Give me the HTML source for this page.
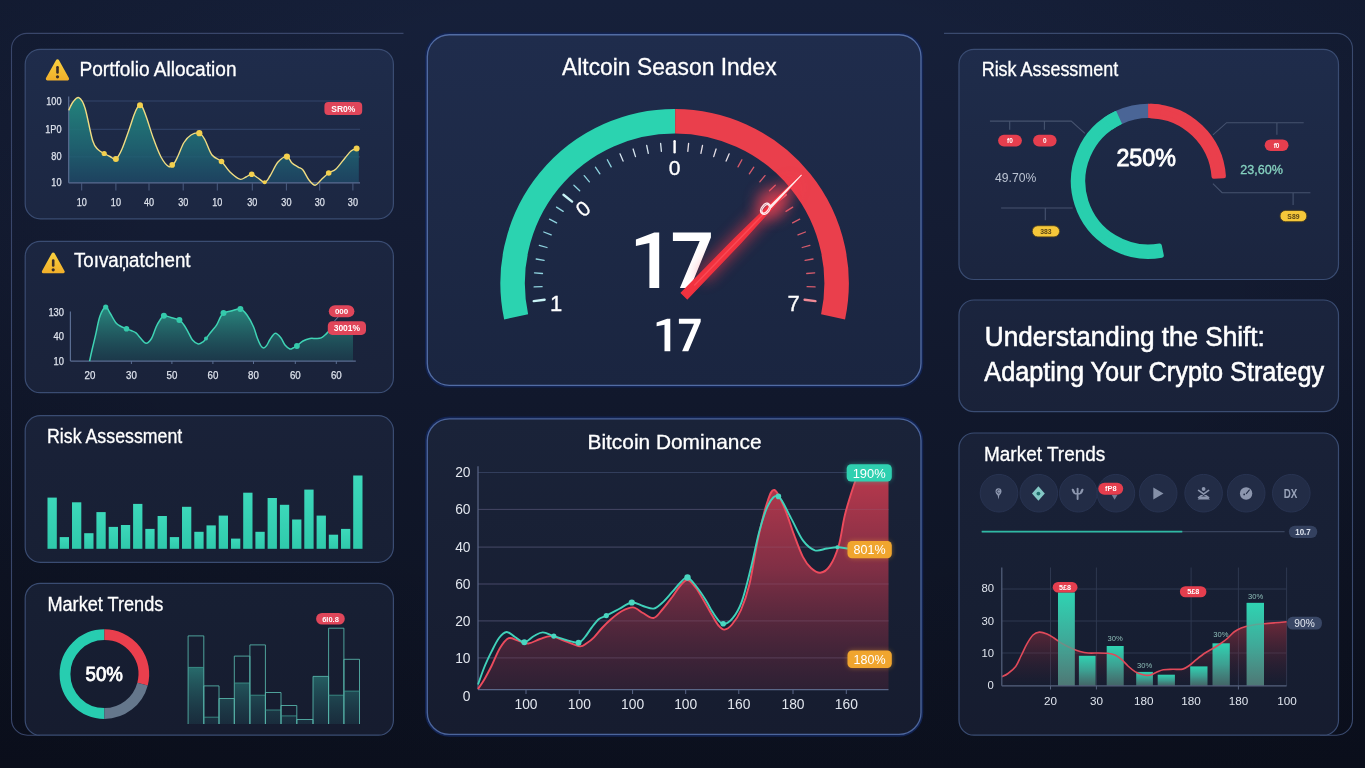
<!DOCTYPE html>
<html><head><meta charset="utf-8"><title>Crypto Dashboard</title>
<style>
html,body{margin:0;padding:0;background:#0e1424;overflow:hidden}
svg{display:block;font-family:"Liberation Sans",sans-serif;filter:blur(0.35px)}
</style></head><body>
<svg width="1365" height="768" viewBox="0 0 1365 768">
<defs>
<linearGradient id="bg" x1="0" y1="0" x2="0" y2="1"><stop offset="0" stop-color="#16203a"/><stop offset="0.3" stop-color="#141c33"/><stop offset="0.52" stop-color="#11182c"/><stop offset="0.75" stop-color="#0f1526"/><stop offset="1" stop-color="#0d1221"/></linearGradient>
<radialGradient id="vig" cx="0.5" cy="0.38" r="0.78"><stop offset="0.5" stop-color="#05070f" stop-opacity="0"/><stop offset="1" stop-color="#05070f" stop-opacity="0.34"/></radialGradient>
<linearGradient id="pf" gradientUnits="userSpaceOnUse" x1="0" y1="35" x2="0" y2="735"><stop offset="0" stop-color="#1f2c4c"/><stop offset="0.065" stop-color="#1e2b49"/><stop offset="0.336" stop-color="#1b253f"/><stop offset="0.6" stop-color="#192137"/><stop offset="0.82" stop-color="#171f33"/><stop offset="1" stop-color="#161c2f"/></linearGradient>
<linearGradient id="pfc" gradientUnits="userSpaceOnUse" x1="0" y1="35" x2="0" y2="385"><stop offset="0" stop-color="#1f2c4c"/><stop offset="0.5" stop-color="#1d2946"/><stop offset="1" stop-color="#1a2540"/></linearGradient>
<linearGradient id="pfc2" gradientUnits="userSpaceOnUse" x1="0" y1="419" x2="0" y2="735"><stop offset="0" stop-color="#1a2339"/><stop offset="1" stop-color="#161c2f"/></linearGradient>

<linearGradient id="a1" gradientUnits="userSpaceOnUse" x1="0" y1="97" x2="0" y2="183"><stop offset="0" stop-color="#23897f" stop-opacity="0.95"/><stop offset="0.6" stop-color="#1f6774" stop-opacity="0.85"/><stop offset="1" stop-color="#1e4a68" stop-opacity="0.75"/></linearGradient>
<linearGradient id="a2" gradientUnits="userSpaceOnUse" x1="0" y1="307" x2="0" y2="361"><stop offset="0" stop-color="#2a8f83" stop-opacity="0.95"/><stop offset="1" stop-color="#1d4a56" stop-opacity="0.55"/></linearGradient>
<linearGradient id="bar3" x1="0" y1="0" x2="0" y2="1"><stop offset="0" stop-color="#3cd8ba"/><stop offset="1" stop-color="#2fc9ab"/></linearGradient>
<linearGradient id="sb" gradientUnits="userSpaceOnUse" x1="0" y1="660" x2="0" y2="724"><stop offset="0" stop-color="#2f8d85" stop-opacity="0.8"/><stop offset="1" stop-color="#1f4a55" stop-opacity="0.35"/></linearGradient>
<linearGradient id="ra" gradientUnits="userSpaceOnUse" x1="0" y1="470" x2="0" y2="690"><stop offset="0" stop-color="#c43a4e" stop-opacity="0.95"/><stop offset="0.45" stop-color="#9a3349" stop-opacity="0.8"/><stop offset="1" stop-color="#4a2438" stop-opacity="0.45"/></linearGradient>
<linearGradient id="rb" x1="0" y1="0" x2="0" y2="1"><stop offset="0" stop-color="#2fd3b2"/><stop offset="0.5" stop-color="#3fae9c" stop-opacity="0.9"/><stop offset="1" stop-color="#56857f" stop-opacity="0.7"/></linearGradient>
<linearGradient id="ra2" gradientUnits="userSpaceOnUse" x1="0" y1="620" x2="0" y2="686"><stop offset="0" stop-color="#a8323f" stop-opacity="0.6"/><stop offset="1" stop-color="#5a2030" stop-opacity="0"/></linearGradient>
<linearGradient id="warn" x1="0" y1="0" x2="0" y2="1"><stop offset="0" stop-color="#f9cf3e"/><stop offset="1" stop-color="#f2b12b"/></linearGradient>
<filter id="glow" x="-50%" y="-50%" width="200%" height="200%"><feGaussianBlur stdDeviation="7"/></filter>
<filter id="glow2" x="-50%" y="-50%" width="200%" height="200%"><feGaussianBlur stdDeviation="2.5"/></filter>
<filter id="soft" x="-20%" y="-20%" width="140%" height="140%"><feGaussianBlur stdDeviation="0.45"/></filter>
</defs>
<rect width="1365" height="768" fill="url(#bg)"/>
<rect width="1365" height="768" fill="url(#vig)"/>

<path d="M403.5 33.4 H27 A15.5 15.5 0 0 0 11.5 49 V719 A16 16 0 0 0 27.5 735.2 H40" fill="none" stroke="#39466a" stroke-width="1.1"/>
<path d="M944 33.4 H1337 A15.5 15.5 0 0 1 1352.5 49 V719 A16 16 0 0 1 1336.5 735.2 H1320" fill="none" stroke="#3a4a6e" stroke-width="1.1"/>
<rect x="25.2" y="49.3" width="368.2" height="169.5" rx="15" fill="url(#pf)" stroke="#3a4c72" stroke-width="1.2"/>
<rect x="25.2" y="241.4" width="368.2" height="151.3" rx="15" fill="url(#pf)" stroke="#3a4c72" stroke-width="1.2"/>
<rect x="25.2" y="415.7" width="368.2" height="146.6" rx="15" fill="url(#pf)" stroke="#3a4c72" stroke-width="1.2"/>
<rect x="25.2" y="583.4" width="368.2" height="151.8" rx="15" fill="url(#pf)" stroke="#3a4c72" stroke-width="1.2"/>
<rect x="427.3" y="34.7" width="493.7" height="350.6" rx="22" fill="none" stroke="#122352" stroke-width="4.5"/>
<rect x="427.3" y="34.7" width="493.7" height="350.6" rx="22" fill="url(#pfc)" stroke="#526ca3" stroke-width="1.35"/>
<rect x="427.3" y="418.8" width="493.7" height="315.6" rx="22" fill="none" stroke="#122352" stroke-width="4.5"/>
<rect x="427.3" y="418.8" width="493.7" height="315.6" rx="22" fill="url(#pfc2)" stroke="#4c659b" stroke-width="1.35"/>
<rect x="959.0" y="49.3" width="379.5" height="230.2" rx="15" fill="url(#pf)" stroke="#3a4c72" stroke-width="1.2"/>
<rect x="959.0" y="300.0" width="379.5" height="111.6" rx="15" fill="url(#pf)" stroke="#3a4c72" stroke-width="1.2"/>
<rect x="959.0" y="433.0" width="379.5" height="302.2" rx="15" fill="url(#pf)" stroke="#3a4c72" stroke-width="1.2"/>
<path d="M57.5 60.9 L67.5 78.8 L47.4 78.8 Z" fill="url(#warn)" stroke="url(#warn)" stroke-width="3.2" stroke-linejoin="round"/>
<rect x="56.2" y="66.1" width="2.6" height="7.6" rx="1.2" fill="#3a2d2a"/>
<circle cx="57.5" cy="76.8" r="1.6" fill="#3a2d2a"/>
<text x="79.5" y="76.2" font-size="19.5" fill="#fff" text-anchor="start" font-weight="normal" textLength="157.0" lengthAdjust="spacingAndGlyphs" stroke="#fff" stroke-width="0.3">Portfolio Allocation</text>
<line x1="68.7" x2="360" y1="101.0" y2="101.0" stroke="#33456b" stroke-width="1"/>
<line x1="68.7" x2="360" y1="129.3" y2="129.3" stroke="#33456b" stroke-width="1"/>
<line x1="68.7" x2="360" y1="156.9" y2="156.9" stroke="#33456b" stroke-width="1"/>
<path d="M68.7 110.4 C69.4 109.0 71.3 104.1 73.0 102.0 C74.7 99.9 76.8 96.7 78.8 97.7 C80.8 98.7 82.7 100.8 85.0 108.0 C87.3 115.2 90.5 133.9 92.7 140.8 C94.9 147.7 96.1 147.4 98.0 149.5 C99.9 151.6 102.2 152.3 104.2 153.5 C106.2 154.7 108.0 155.6 110.0 156.5 C112.0 157.4 113.9 160.2 115.9 158.9 C117.9 157.7 119.7 154.3 122.0 149.0 C124.3 143.7 127.9 133.0 129.9 127.3 C131.9 121.6 132.7 118.3 134.0 115.0 C135.3 111.7 136.6 108.8 137.6 107.2 C138.6 105.6 139.2 105.3 140.0 105.3 C140.8 105.3 141.3 105.2 142.4 107.2 C143.5 109.2 144.6 112.2 146.5 117.5 C148.4 122.8 151.2 132.5 153.6 139.1 C156.0 145.7 158.5 152.4 161.0 157.0 C163.5 161.6 166.6 165.5 168.8 166.6 C171.0 167.7 172.5 165.3 174.0 163.5 C175.5 161.7 176.3 159.5 178.0 156.0 C179.7 152.5 181.8 146.0 184.0 142.5 C186.2 139.0 188.4 136.6 191.0 135.0 C193.6 133.4 197.0 132.4 199.3 133.2 C201.6 134.0 202.9 136.4 205.0 140.0 C207.1 143.6 209.2 151.4 212.0 155.0 C214.8 158.6 218.5 158.7 221.5 161.5 C224.5 164.3 226.9 169.1 230.0 172.0 C233.1 174.9 237.1 178.4 239.8 179.2 C242.5 180.0 244.0 177.8 246.0 177.0 C248.0 176.2 249.7 174.1 251.7 174.3 C253.7 174.5 255.8 176.7 258.0 178.0 C260.2 179.3 262.7 182.6 264.7 182.3 C266.7 182.0 267.8 179.4 270.0 176.0 C272.2 172.6 275.2 165.2 278.0 162.0 C280.8 158.8 284.6 156.4 286.9 156.6 C289.2 156.8 290.1 161.2 292.0 163.0 C293.9 164.8 296.4 165.9 298.2 167.1 C300.0 168.3 301.2 167.8 303.0 170.0 C304.8 172.2 307.0 177.5 309.0 180.0 C311.0 182.5 313.1 185.2 315.1 185.2 C317.1 185.2 318.7 182.0 321.0 180.0 C323.3 178.0 326.2 174.8 328.7 173.0 C331.2 171.2 333.3 171.5 336.0 169.0 C338.7 166.5 342.5 161.0 345.0 158.0 C347.5 155.0 349.1 152.6 351.0 151.0 C352.9 149.4 355.7 148.9 356.6 148.5 L358.8 148.5 L358.8 182.8 L68.7 182.8 Z" fill="url(#a1)"/>
<line x1="68.7" x2="360" y1="182.8" y2="182.8" stroke="#5a6d92" stroke-width="1.2"/>
<line x1="68.7" x2="68.7" y1="96.5" y2="182.8" stroke="#5a6d92" stroke-width="1.2"/>
<path d="M68.7 110.4 C69.4 109.0 71.3 104.1 73.0 102.0 C74.7 99.9 76.8 96.7 78.8 97.7 C80.8 98.7 82.7 100.8 85.0 108.0 C87.3 115.2 90.5 133.9 92.7 140.8 C94.9 147.7 96.1 147.4 98.0 149.5 C99.9 151.6 102.2 152.3 104.2 153.5 C106.2 154.7 108.0 155.6 110.0 156.5 C112.0 157.4 113.9 160.2 115.9 158.9 C117.9 157.7 119.7 154.3 122.0 149.0 C124.3 143.7 127.9 133.0 129.9 127.3 C131.9 121.6 132.7 118.3 134.0 115.0 C135.3 111.7 136.6 108.8 137.6 107.2 C138.6 105.6 139.2 105.3 140.0 105.3 C140.8 105.3 141.3 105.2 142.4 107.2 C143.5 109.2 144.6 112.2 146.5 117.5 C148.4 122.8 151.2 132.5 153.6 139.1 C156.0 145.7 158.5 152.4 161.0 157.0 C163.5 161.6 166.6 165.5 168.8 166.6 C171.0 167.7 172.5 165.3 174.0 163.5 C175.5 161.7 176.3 159.5 178.0 156.0 C179.7 152.5 181.8 146.0 184.0 142.5 C186.2 139.0 188.4 136.6 191.0 135.0 C193.6 133.4 197.0 132.4 199.3 133.2 C201.6 134.0 202.9 136.4 205.0 140.0 C207.1 143.6 209.2 151.4 212.0 155.0 C214.8 158.6 218.5 158.7 221.5 161.5 C224.5 164.3 226.9 169.1 230.0 172.0 C233.1 174.9 237.1 178.4 239.8 179.2 C242.5 180.0 244.0 177.8 246.0 177.0 C248.0 176.2 249.7 174.1 251.7 174.3 C253.7 174.5 255.8 176.7 258.0 178.0 C260.2 179.3 262.7 182.6 264.7 182.3 C266.7 182.0 267.8 179.4 270.0 176.0 C272.2 172.6 275.2 165.2 278.0 162.0 C280.8 158.8 284.6 156.4 286.9 156.6 C289.2 156.8 290.1 161.2 292.0 163.0 C293.9 164.8 296.4 165.9 298.2 167.1 C300.0 168.3 301.2 167.8 303.0 170.0 C304.8 172.2 307.0 177.5 309.0 180.0 C311.0 182.5 313.1 185.2 315.1 185.2 C317.1 185.2 318.7 182.0 321.0 180.0 C323.3 178.0 326.2 174.8 328.7 173.0 C331.2 171.2 333.3 171.5 336.0 169.0 C338.7 166.5 342.5 161.0 345.0 158.0 C347.5 155.0 349.1 152.6 351.0 151.0 C352.9 149.4 355.7 148.9 356.6 148.5" fill="none" stroke="#f0dc82" stroke-width="1.4"/>
<circle cx="104.2" cy="153.5" r="2.6" fill="#f3d04e"/>
<circle cx="115.9" cy="158.9" r="3.0" fill="#f3d04e"/>
<circle cx="140.0" cy="105.3" r="3.0" fill="#f3d04e"/>
<circle cx="172.2" cy="164.9" r="2.8" fill="#f3d04e"/>
<circle cx="199.3" cy="133.2" r="3.1" fill="#f3d04e"/>
<circle cx="221.5" cy="161.5" r="2.8" fill="#f3d04e"/>
<circle cx="251.7" cy="174.3" r="2.8" fill="#f3d04e"/>
<circle cx="264.7" cy="182.3" r="2.0" fill="#f3d04e"/>
<circle cx="286.9" cy="156.6" r="3.1" fill="#f3d04e"/>
<circle cx="328.7" cy="173.0" r="2.8" fill="#f3d04e"/>
<circle cx="356.6" cy="148.5" r="3.0" fill="#f3d04e"/>
<text x="61.5" y="105.1" font-size="10.4" fill="#dde2ec" text-anchor="end" font-weight="normal" textLength="15.3" lengthAdjust="spacingAndGlyphs" stroke="#dde2ec" stroke-width="0.25">100</text>
<text x="61.5" y="133.0" font-size="10.4" fill="#dde2ec" text-anchor="end" font-weight="normal" textLength="16.3" lengthAdjust="spacingAndGlyphs" stroke="#dde2ec" stroke-width="0.25">1P0</text>
<text x="61.5" y="160.2" font-size="10.4" fill="#dde2ec" text-anchor="end" font-weight="normal" textLength="10.2" lengthAdjust="spacingAndGlyphs" stroke="#dde2ec" stroke-width="0.25">80</text>
<text x="61.5" y="186.3" font-size="10.4" fill="#dde2ec" text-anchor="end" font-weight="normal" textLength="10.2" lengthAdjust="spacingAndGlyphs" stroke="#dde2ec" stroke-width="0.25">10</text>
<line x1="81.7" x2="81.7" y1="183" y2="190.5" stroke="#4a5c80" stroke-width="1"/>
<text x="81.7" y="205.5" font-size="10.6" fill="#dde2ec" text-anchor="middle" font-weight="normal" textLength="10.1" lengthAdjust="spacingAndGlyphs" stroke="#dde2ec" stroke-width="0.25">10</text>
<line x1="115.9" x2="115.9" y1="183" y2="190.5" stroke="#4a5c80" stroke-width="1"/>
<text x="115.9" y="205.5" font-size="10.6" fill="#dde2ec" text-anchor="middle" font-weight="normal" textLength="10.1" lengthAdjust="spacingAndGlyphs" stroke="#dde2ec" stroke-width="0.25">10</text>
<line x1="149.0" x2="149.0" y1="183" y2="190.5" stroke="#4a5c80" stroke-width="1"/>
<text x="149.0" y="205.5" font-size="10.6" fill="#dde2ec" text-anchor="middle" font-weight="normal" textLength="10.1" lengthAdjust="spacingAndGlyphs" stroke="#dde2ec" stroke-width="0.25">40</text>
<line x1="183.2" x2="183.2" y1="183" y2="190.5" stroke="#4a5c80" stroke-width="1"/>
<text x="183.2" y="205.5" font-size="10.6" fill="#dde2ec" text-anchor="middle" font-weight="normal" textLength="10.1" lengthAdjust="spacingAndGlyphs" stroke="#dde2ec" stroke-width="0.25">30</text>
<line x1="217.3" x2="217.3" y1="183" y2="190.5" stroke="#4a5c80" stroke-width="1"/>
<text x="217.3" y="205.5" font-size="10.6" fill="#dde2ec" text-anchor="middle" font-weight="normal" textLength="10.1" lengthAdjust="spacingAndGlyphs" stroke="#dde2ec" stroke-width="0.25">10</text>
<line x1="252.3" x2="252.3" y1="183" y2="190.5" stroke="#4a5c80" stroke-width="1"/>
<text x="252.3" y="205.5" font-size="10.6" fill="#dde2ec" text-anchor="middle" font-weight="normal" textLength="10.1" lengthAdjust="spacingAndGlyphs" stroke="#dde2ec" stroke-width="0.25">30</text>
<line x1="286.4" x2="286.4" y1="183" y2="190.5" stroke="#4a5c80" stroke-width="1"/>
<text x="286.4" y="205.5" font-size="10.6" fill="#dde2ec" text-anchor="middle" font-weight="normal" textLength="10.1" lengthAdjust="spacingAndGlyphs" stroke="#dde2ec" stroke-width="0.25">30</text>
<line x1="319.7" x2="319.7" y1="183" y2="190.5" stroke="#4a5c80" stroke-width="1"/>
<text x="319.7" y="205.5" font-size="10.6" fill="#dde2ec" text-anchor="middle" font-weight="normal" textLength="10.1" lengthAdjust="spacingAndGlyphs" stroke="#dde2ec" stroke-width="0.25">30</text>
<line x1="352.9" x2="352.9" y1="183" y2="190.5" stroke="#4a5c80" stroke-width="1"/>
<text x="352.9" y="205.5" font-size="10.6" fill="#dde2ec" text-anchor="middle" font-weight="normal" textLength="10.1" lengthAdjust="spacingAndGlyphs" stroke="#dde2ec" stroke-width="0.25">30</text>
<rect x="324.4" y="101.9" width="37.8" height="13.2" rx="4.0" fill="#e0465a"/>
<text x="343.3" y="111.6" font-size="8.5" fill="#fff" text-anchor="middle" font-weight="bold" >SR0%</text>
<path d="M53.2 254.1 L63.1 271.7 L43.4 271.7 Z" fill="url(#warn)" stroke="url(#warn)" stroke-width="3.2" stroke-linejoin="round"/>
<rect x="51.9" y="259.2" width="2.6" height="7.5" rx="1.2" fill="#3a2d2a"/>
<circle cx="53.2" cy="269.8" r="1.6" fill="#3a2d2a"/>
<text x="74.0" y="267.2" font-size="19.5" fill="#fff" text-anchor="start" font-weight="normal" textLength="116.5" lengthAdjust="spacingAndGlyphs" stroke="#fff" stroke-width="0.3">Toıvaņatchent</text>
<path d="M89.6 361.1 C90.0 359.2 91.0 354.4 92.0 350.0 C93.0 345.6 94.3 340.6 95.6 334.9 C96.9 329.2 98.3 320.6 100.0 316.0 C101.7 311.4 104.0 307.5 105.7 307.0 C107.4 306.5 108.3 310.4 110.0 313.0 C111.7 315.6 114.0 320.4 115.8 322.7 C117.6 324.9 119.2 325.5 121.0 326.5 C122.8 327.5 124.8 328.1 126.5 328.8 C128.2 329.5 129.4 329.8 131.0 330.5 C132.6 331.2 134.5 331.6 136.0 332.8 C137.5 334.0 138.3 335.8 140.0 337.5 C141.7 339.2 144.2 343.1 146.1 343.3 C148.0 343.5 149.8 341.2 151.5 338.5 C153.2 335.8 154.8 329.9 156.2 326.8 C157.6 323.7 158.7 321.9 160.0 320.0 C161.3 318.1 162.1 316.1 163.9 315.7 C165.7 315.3 168.4 316.8 171.0 317.5 C173.6 318.2 177.2 318.9 179.4 320.1 C181.6 321.4 182.5 322.9 184.0 325.0 C185.5 327.1 187.1 330.3 188.5 332.8 C189.9 335.3 190.9 338.1 192.5 340.0 C194.1 341.9 196.4 343.6 198.2 343.9 C199.9 344.2 201.7 342.7 203.0 341.8 C204.3 340.9 204.7 340.1 206.0 338.5 C207.3 336.9 209.2 334.3 211.0 332.0 C212.8 329.7 215.2 327.1 216.7 324.8 C218.2 322.5 218.9 319.9 220.0 318.0 C221.1 316.1 221.7 314.3 223.5 313.1 C225.3 311.9 228.2 311.7 231.0 311.0 C233.8 310.3 237.7 308.3 240.4 309.0 C243.1 309.7 244.8 312.0 247.0 315.0 C249.2 318.0 251.8 323.0 253.5 326.8 C255.2 330.6 256.1 334.9 257.3 338.0 C258.5 341.1 259.6 343.6 260.6 345.3 C261.7 347.0 262.6 347.9 263.6 348.0 C264.6 348.1 265.5 347.0 266.6 345.6 C267.7 344.2 268.6 341.6 270.0 339.5 C271.4 337.4 273.5 333.4 275.3 333.2 C277.1 332.9 279.4 336.0 281.0 338.0 C282.6 340.0 283.5 343.2 285.0 345.0 C286.5 346.8 288.6 348.5 289.9 349.0 C291.2 349.5 291.8 348.5 293.0 348.0 C294.2 347.5 295.2 347.2 296.9 346.0 C298.6 344.8 300.8 342.2 303.0 341.0 C305.2 339.8 307.8 338.9 310.0 338.5 C312.2 338.1 314.1 338.6 316.0 338.5 C317.9 338.4 319.6 338.5 321.1 337.9 C322.6 337.3 323.6 336.2 325.0 335.0 C326.4 333.8 327.9 332.0 329.2 330.8 C330.5 329.6 331.2 328.6 333.0 328.0 C334.8 327.4 336.7 327.6 340.0 327.5 C343.3 327.4 350.8 327.5 353.0 327.5 L353 327.5 L353 361.1 L89.6 361.1 Z" fill="url(#a2)"/>
<path d="M334.5 321 L340.5 314.5" stroke="#6f86b0" stroke-width="1" fill="none"/>
<line x1="70.4" x2="355.8" y1="361.1" y2="361.1" stroke="#5a6d92" stroke-width="1.2"/>
<line x1="70.4" x2="70.4" y1="311.6" y2="361.1" stroke="#5a6d92" stroke-width="1.2"/>
<path d="M89.6 361.1 C90.0 359.2 91.0 354.4 92.0 350.0 C93.0 345.6 94.3 340.6 95.6 334.9 C96.9 329.2 98.3 320.6 100.0 316.0 C101.7 311.4 104.0 307.5 105.7 307.0 C107.4 306.5 108.3 310.4 110.0 313.0 C111.7 315.6 114.0 320.4 115.8 322.7 C117.6 324.9 119.2 325.5 121.0 326.5 C122.8 327.5 124.8 328.1 126.5 328.8 C128.2 329.5 129.4 329.8 131.0 330.5 C132.6 331.2 134.5 331.6 136.0 332.8 C137.5 334.0 138.3 335.8 140.0 337.5 C141.7 339.2 144.2 343.1 146.1 343.3 C148.0 343.5 149.8 341.2 151.5 338.5 C153.2 335.8 154.8 329.9 156.2 326.8 C157.6 323.7 158.7 321.9 160.0 320.0 C161.3 318.1 162.1 316.1 163.9 315.7 C165.7 315.3 168.4 316.8 171.0 317.5 C173.6 318.2 177.2 318.9 179.4 320.1 C181.6 321.4 182.5 322.9 184.0 325.0 C185.5 327.1 187.1 330.3 188.5 332.8 C189.9 335.3 190.9 338.1 192.5 340.0 C194.1 341.9 196.4 343.6 198.2 343.9 C199.9 344.2 201.7 342.7 203.0 341.8 C204.3 340.9 204.7 340.1 206.0 338.5 C207.3 336.9 209.2 334.3 211.0 332.0 C212.8 329.7 215.2 327.1 216.7 324.8 C218.2 322.5 218.9 319.9 220.0 318.0 C221.1 316.1 221.7 314.3 223.5 313.1 C225.3 311.9 228.2 311.7 231.0 311.0 C233.8 310.3 237.7 308.3 240.4 309.0 C243.1 309.7 244.8 312.0 247.0 315.0 C249.2 318.0 251.8 323.0 253.5 326.8 C255.2 330.6 256.1 334.9 257.3 338.0 C258.5 341.1 259.6 343.6 260.6 345.3 C261.7 347.0 262.6 347.9 263.6 348.0 C264.6 348.1 265.5 347.0 266.6 345.6 C267.7 344.2 268.6 341.6 270.0 339.5 C271.4 337.4 273.5 333.4 275.3 333.2 C277.1 332.9 279.4 336.0 281.0 338.0 C282.6 340.0 283.5 343.2 285.0 345.0 C286.5 346.8 288.6 348.5 289.9 349.0 C291.2 349.5 291.8 348.5 293.0 348.0 C294.2 347.5 295.2 347.2 296.9 346.0 C298.6 344.8 300.8 342.2 303.0 341.0 C305.2 339.8 307.8 338.9 310.0 338.5 C312.2 338.1 314.1 338.6 316.0 338.5 C317.9 338.4 319.6 338.5 321.1 337.9 C322.6 337.3 323.6 336.2 325.0 335.0 C326.4 333.8 327.9 332.0 329.2 330.8 C330.5 329.6 331.2 328.6 333.0 328.0 C334.8 327.4 336.7 327.6 340.0 327.5 C343.3 327.4 350.8 327.5 353.0 327.5" fill="none" stroke="#3fd3b4" stroke-width="1.5"/>
<circle cx="105.7" cy="307.0" r="2.6" fill="#35c9ab"/>
<circle cx="126.5" cy="328.8" r="2.8" fill="#35c9ab"/>
<circle cx="163.9" cy="315.7" r="3.0" fill="#35c9ab"/>
<circle cx="179.4" cy="320.1" r="3.0" fill="#35c9ab"/>
<circle cx="206.0" cy="338.5" r="2.0" fill="#35c9ab"/>
<circle cx="223.5" cy="313.1" r="3.0" fill="#35c9ab"/>
<circle cx="240.4" cy="309.0" r="3.0" fill="#35c9ab"/>
<circle cx="296.9" cy="346.0" r="2.9" fill="#35c9ab"/>
<text x="64.0" y="315.8" font-size="10.6" fill="#dde2ec" text-anchor="end" font-weight="normal" textLength="15.6" lengthAdjust="spacingAndGlyphs" stroke="#dde2ec" stroke-width="0.25">130</text>
<text x="64.0" y="339.7" font-size="10.6" fill="#dde2ec" text-anchor="end" font-weight="normal" textLength="10.4" lengthAdjust="spacingAndGlyphs" stroke="#dde2ec" stroke-width="0.25">40</text>
<text x="64.0" y="365.1" font-size="10.6" fill="#dde2ec" text-anchor="end" font-weight="normal" textLength="10.4" lengthAdjust="spacingAndGlyphs" stroke="#dde2ec" stroke-width="0.25">10</text>
<text x="90.0" y="378.5" font-size="11" fill="#dde2ec" text-anchor="middle" font-weight="normal" textLength="10.8" lengthAdjust="spacingAndGlyphs" stroke="#dde2ec" stroke-width="0.25">20</text>
<line x1="131.4" x2="131.4" y1="361" y2="364" stroke="#5a6d92" stroke-width="1"/>
<text x="131.4" y="378.5" font-size="11" fill="#dde2ec" text-anchor="middle" font-weight="normal" textLength="10.8" lengthAdjust="spacingAndGlyphs" stroke="#dde2ec" stroke-width="0.25">30</text>
<line x1="171.9" x2="171.9" y1="361" y2="364" stroke="#5a6d92" stroke-width="1"/>
<text x="171.9" y="378.5" font-size="11" fill="#dde2ec" text-anchor="middle" font-weight="normal" textLength="10.8" lengthAdjust="spacingAndGlyphs" stroke="#dde2ec" stroke-width="0.25">50</text>
<line x1="212.9" x2="212.9" y1="361" y2="364" stroke="#5a6d92" stroke-width="1"/>
<text x="212.9" y="378.5" font-size="11" fill="#dde2ec" text-anchor="middle" font-weight="normal" textLength="10.8" lengthAdjust="spacingAndGlyphs" stroke="#dde2ec" stroke-width="0.25">60</text>
<line x1="253.5" x2="253.5" y1="361" y2="364" stroke="#5a6d92" stroke-width="1"/>
<text x="253.5" y="378.5" font-size="11" fill="#dde2ec" text-anchor="middle" font-weight="normal" textLength="10.8" lengthAdjust="spacingAndGlyphs" stroke="#dde2ec" stroke-width="0.25">80</text>
<line x1="295.3" x2="295.3" y1="361" y2="364" stroke="#5a6d92" stroke-width="1"/>
<text x="295.3" y="378.5" font-size="11" fill="#dde2ec" text-anchor="middle" font-weight="normal" textLength="10.8" lengthAdjust="spacingAndGlyphs" stroke="#dde2ec" stroke-width="0.25">60</text>
<line x1="336.3" x2="336.3" y1="361" y2="364" stroke="#5a6d92" stroke-width="1"/>
<text x="336.3" y="378.5" font-size="11" fill="#dde2ec" text-anchor="middle" font-weight="normal" textLength="10.8" lengthAdjust="spacingAndGlyphs" stroke="#dde2ec" stroke-width="0.25">60</text>
<rect x="328.8" y="305.2" width="25.6" height="12.1" rx="6.1" fill="#e0465a"/>
<text x="341.6" y="314.1" font-size="8" fill="#fff" text-anchor="middle" font-weight="bold" >000</text>
<rect x="327.8" y="321.3" width="38.2" height="13.6" rx="4.5" fill="#e0465a"/>
<text x="346.9" y="331.2" font-size="8.5" fill="#fff" text-anchor="middle" font-weight="bold" >3001%</text>
<text x="47.0" y="442.7" font-size="19.5" fill="#fff" text-anchor="start" font-weight="normal" textLength="135.3" lengthAdjust="spacingAndGlyphs" stroke="#fff" stroke-width="0.3">Risk Assessment</text>
<rect x="47.5" y="497.6" width="9.3" height="51.2" fill="url(#bar3)"/>
<rect x="59.7" y="537.1" width="9.3" height="11.7" fill="url(#bar3)"/>
<rect x="72.0" y="502.3" width="9.3" height="46.5" fill="url(#bar3)"/>
<rect x="84.2" y="533.2" width="9.3" height="15.6" fill="url(#bar3)"/>
<rect x="96.4" y="512.1" width="9.3" height="36.7" fill="url(#bar3)"/>
<rect x="108.7" y="526.9" width="9.3" height="21.9" fill="url(#bar3)"/>
<rect x="120.9" y="525.0" width="9.3" height="23.8" fill="url(#bar3)"/>
<rect x="133.1" y="503.9" width="9.3" height="44.9" fill="url(#bar3)"/>
<rect x="145.3" y="528.9" width="9.3" height="19.9" fill="url(#bar3)"/>
<rect x="157.6" y="516.0" width="9.3" height="32.8" fill="url(#bar3)"/>
<rect x="169.8" y="537.1" width="9.3" height="11.7" fill="url(#bar3)"/>
<rect x="182.0" y="506.8" width="9.3" height="42.0" fill="url(#bar3)"/>
<rect x="194.3" y="531.8" width="9.3" height="17.0" fill="url(#bar3)"/>
<rect x="206.5" y="525.4" width="9.3" height="23.4" fill="url(#bar3)"/>
<rect x="218.7" y="515.6" width="9.3" height="33.2" fill="url(#bar3)"/>
<rect x="231.0" y="538.6" width="9.3" height="10.2" fill="url(#bar3)"/>
<rect x="243.2" y="492.7" width="9.3" height="56.1" fill="url(#bar3)"/>
<rect x="255.4" y="531.8" width="9.3" height="17.0" fill="url(#bar3)"/>
<rect x="267.6" y="498.0" width="9.3" height="50.8" fill="url(#bar3)"/>
<rect x="279.9" y="504.8" width="9.3" height="44.0" fill="url(#bar3)"/>
<rect x="292.1" y="519.5" width="9.3" height="29.3" fill="url(#bar3)"/>
<rect x="304.3" y="489.6" width="9.3" height="59.2" fill="url(#bar3)"/>
<rect x="316.6" y="515.6" width="9.3" height="33.2" fill="url(#bar3)"/>
<rect x="328.8" y="534.7" width="9.3" height="14.1" fill="url(#bar3)"/>
<rect x="341.0" y="528.9" width="9.3" height="19.9" fill="url(#bar3)"/>
<rect x="353.2" y="475.5" width="9.3" height="73.3" fill="url(#bar3)"/>
<text x="47.4" y="610.6" font-size="19.5" fill="#fff" text-anchor="start" font-weight="normal" textLength="116.0" lengthAdjust="spacingAndGlyphs" stroke="#fff" stroke-width="0.3">Market Trends</text>
<path d="M104.40 713.50 A39.40 39.40 0 0 1 104.40 634.70" fill="none" stroke="#27cdb0" stroke-width="10.8"/>
<path d="M104.40 634.70 A39.40 39.40 0 0 1 142.51 684.10" fill="none" stroke="#ea3f4d" stroke-width="10.8"/>
<path d="M142.51 684.10 A39.40 39.40 0 0 1 104.40 713.50" fill="none" stroke="#65778c" stroke-width="10.8"/>
<text x="104.2" y="680.9" font-size="19.5" fill="#fff" text-anchor="middle" font-weight="normal" textLength="37.4" lengthAdjust="spacingAndGlyphs" stroke="#fff" stroke-width="0.8">50%</text>
<rect x="188.1" y="667.4" width="15.7" height="56.6" fill="url(#sb)"/>
<rect x="203.8" y="717.2" width="15.2" height="6.8" fill="url(#sb)"/>
<rect x="219.0" y="698.5" width="15.3" height="25.5" fill="url(#sb)"/>
<rect x="234.3" y="683.0" width="15.6" height="41.0" fill="url(#sb)"/>
<rect x="249.9" y="695.2" width="15.5" height="28.8" fill="url(#sb)"/>
<rect x="265.4" y="710.0" width="15.6" height="14.0" fill="url(#sb)"/>
<rect x="281.0" y="715.9" width="15.8" height="8.1" fill="url(#sb)"/>
<rect x="296.8" y="719.5" width="16.2" height="4.5" fill="url(#sb)"/>
<rect x="313.0" y="676.4" width="15.6" height="47.6" fill="url(#sb)"/>
<rect x="328.6" y="695.2" width="15.3" height="28.8" fill="url(#sb)"/>
<rect x="343.9" y="691.1" width="15.6" height="32.9" fill="url(#sb)"/>
<path d="M188.1 724 V635.9 H203.8 V724" fill="none" stroke="#58b9ad" stroke-width="1" stroke-opacity="0.85"/>
<line x1="188.1" x2="203.8" y1="667.4" y2="667.4" stroke="#3f9a90" stroke-width="1" stroke-opacity="0.8"/>
<path d="M203.8 724 V685.9 H219.0 V724" fill="none" stroke="#58b9ad" stroke-width="1" stroke-opacity="0.85"/>
<line x1="203.8" x2="219.0" y1="717.2" y2="717.2" stroke="#3f9a90" stroke-width="1" stroke-opacity="0.8"/>
<path d="M219.0 724 V698.5 H234.3 V724" fill="none" stroke="#58b9ad" stroke-width="1" stroke-opacity="0.85"/>
<path d="M234.3 724 V656.1 H249.9 V724" fill="none" stroke="#58b9ad" stroke-width="1" stroke-opacity="0.85"/>
<line x1="234.3" x2="249.9" y1="683.0" y2="683.0" stroke="#3f9a90" stroke-width="1" stroke-opacity="0.8"/>
<path d="M249.9 724 V644.9 H265.4 V724" fill="none" stroke="#58b9ad" stroke-width="1" stroke-opacity="0.85"/>
<line x1="249.9" x2="265.4" y1="695.2" y2="695.2" stroke="#3f9a90" stroke-width="1" stroke-opacity="0.8"/>
<path d="M265.4 724 V692.5 H281.0 V724" fill="none" stroke="#58b9ad" stroke-width="1" stroke-opacity="0.85"/>
<line x1="265.4" x2="281.0" y1="710.0" y2="710.0" stroke="#3f9a90" stroke-width="1" stroke-opacity="0.8"/>
<path d="M281.0 724 V705.5 H296.8 V724" fill="none" stroke="#58b9ad" stroke-width="1" stroke-opacity="0.85"/>
<line x1="281.0" x2="296.8" y1="715.9" y2="715.9" stroke="#3f9a90" stroke-width="1" stroke-opacity="0.8"/>
<path d="M296.8 724 V719.5 H313.0 V724" fill="none" stroke="#58b9ad" stroke-width="1" stroke-opacity="0.85"/>
<path d="M313.0 724 V676.4 H328.6 V724" fill="none" stroke="#58b9ad" stroke-width="1" stroke-opacity="0.85"/>
<path d="M328.6 724 V628.2 H343.9 V724" fill="none" stroke="#58b9ad" stroke-width="1" stroke-opacity="0.85"/>
<line x1="328.6" x2="343.9" y1="695.2" y2="695.2" stroke="#3f9a90" stroke-width="1" stroke-opacity="0.8"/>
<path d="M343.9 724 V659.3 H359.5 V724" fill="none" stroke="#58b9ad" stroke-width="1" stroke-opacity="0.85"/>
<line x1="343.9" x2="359.5" y1="691.1" y2="691.1" stroke="#3f9a90" stroke-width="1" stroke-opacity="0.8"/>
<rect x="316.1" y="612.9" width="28.7" height="11.7" rx="5.9" fill="#e0465a"/>
<text x="330.5" y="621.5" font-size="7.5" fill="#fff" text-anchor="middle" font-weight="bold" >6I0.8</text>
<text x="562.0" y="75.4" font-size="24.5" fill="#fff" text-anchor="start" font-weight="normal" textLength="214.6" lengthAdjust="spacingAndGlyphs" stroke="#fff" stroke-width="0.3">Altcoin Season Index</text>
<path d="M516.14 316.88 A162.00 162.00 0 0 1 675.17 121.20" fill="none" stroke="#2bd3b0" stroke-width="24.5"/>
<path d="M675.17 121.20 A162.00 162.00 0 0 1 833.06 316.88" fill="none" stroke="#ea3f4c" stroke-width="24.5"/>
<line x1="544.6" y1="299.7" x2="533.7" y2="301.1" stroke="#c8f3f6" stroke-width="2.4" stroke-linecap="round"/>
<line x1="542.1" y1="286.7" x2="534.1" y2="286.9" stroke="#8fd3df" stroke-width="1.3" stroke-linecap="round"/>
<line x1="542.5" y1="273.5" x2="534.5" y2="272.9" stroke="#8fd3df" stroke-width="1.3" stroke-linecap="round"/>
<line x1="544.1" y1="260.4" x2="536.2" y2="259.0" stroke="#8fd3df" stroke-width="1.3" stroke-linecap="round"/>
<line x1="547.0" y1="247.5" x2="539.3" y2="245.3" stroke="#8fd3df" stroke-width="1.3" stroke-linecap="round"/>
<line x1="551.2" y1="234.9" x2="543.8" y2="232.0" stroke="#8fd3df" stroke-width="1.3" stroke-linecap="round"/>
<line x1="556.6" y1="222.9" x2="549.5" y2="219.2" stroke="#8fd3df" stroke-width="1.3" stroke-linecap="round"/>
<line x1="563.2" y1="211.4" x2="556.5" y2="207.1" stroke="#8fd3df" stroke-width="1.3" stroke-linecap="round"/>
<line x1="572.1" y1="201.6" x2="563.5" y2="194.8" stroke="#c8f3f6" stroke-width="2.4" stroke-linecap="round"/>
<line x1="579.7" y1="190.8" x2="573.9" y2="185.2" stroke="#8fd3df" stroke-width="1.3" stroke-linecap="round"/>
<line x1="589.4" y1="181.8" x2="584.2" y2="175.6" stroke="#8fd3df" stroke-width="1.3" stroke-linecap="round"/>
<line x1="599.9" y1="173.8" x2="595.4" y2="167.2" stroke="#8fd3df" stroke-width="1.3" stroke-linecap="round"/>
<line x1="611.2" y1="166.9" x2="607.3" y2="159.8" stroke="#8fd3df" stroke-width="1.3" stroke-linecap="round"/>
<line x1="623.1" y1="161.1" x2="620.0" y2="153.8" stroke="#d6e4ee" stroke-width="1.3" stroke-linecap="round"/>
<line x1="635.5" y1="156.6" x2="633.1" y2="149.0" stroke="#d6e4ee" stroke-width="1.3" stroke-linecap="round"/>
<line x1="648.3" y1="153.3" x2="646.7" y2="145.5" stroke="#d6e4ee" stroke-width="1.3" stroke-linecap="round"/>
<line x1="661.4" y1="151.4" x2="660.6" y2="143.4" stroke="#d6e4ee" stroke-width="1.3" stroke-linecap="round"/>
<line x1="674.6" y1="152.2" x2="674.6" y2="141.2" stroke="#ffffff" stroke-width="2.4" stroke-linecap="round"/>
<line x1="687.8" y1="151.4" x2="688.6" y2="143.4" stroke="#e6dfe6" stroke-width="1.3" stroke-linecap="round"/>
<line x1="700.9" y1="153.3" x2="702.5" y2="145.5" stroke="#e6dfe6" stroke-width="1.3" stroke-linecap="round"/>
<line x1="713.7" y1="156.6" x2="716.1" y2="149.0" stroke="#e6dfe6" stroke-width="1.3" stroke-linecap="round"/>
<line x1="726.1" y1="161.1" x2="729.2" y2="153.8" stroke="#e6dfe6" stroke-width="1.3" stroke-linecap="round"/>
<line x1="738.0" y1="166.9" x2="741.9" y2="159.8" stroke="#d65b6c" stroke-width="1.3" stroke-linecap="round"/>
<line x1="749.3" y1="173.8" x2="753.8" y2="167.2" stroke="#d65b6c" stroke-width="1.3" stroke-linecap="round"/>
<line x1="759.8" y1="181.8" x2="765.0" y2="175.6" stroke="#d65b6c" stroke-width="1.3" stroke-linecap="round"/>
<line x1="769.5" y1="190.8" x2="775.3" y2="185.2" stroke="#d65b6c" stroke-width="1.3" stroke-linecap="round"/>
<line x1="777.1" y1="201.6" x2="785.7" y2="194.8" stroke="#f08a96" stroke-width="2.4" stroke-linecap="round"/>
<line x1="786.0" y1="211.4" x2="792.7" y2="207.1" stroke="#d65b6c" stroke-width="1.3" stroke-linecap="round"/>
<line x1="792.6" y1="222.9" x2="799.7" y2="219.2" stroke="#d65b6c" stroke-width="1.3" stroke-linecap="round"/>
<line x1="798.0" y1="234.9" x2="805.4" y2="232.0" stroke="#d65b6c" stroke-width="1.3" stroke-linecap="round"/>
<line x1="802.2" y1="247.5" x2="809.9" y2="245.3" stroke="#d65b6c" stroke-width="1.3" stroke-linecap="round"/>
<line x1="805.1" y1="260.4" x2="813.0" y2="259.0" stroke="#d65b6c" stroke-width="1.3" stroke-linecap="round"/>
<line x1="806.7" y1="273.5" x2="814.7" y2="272.9" stroke="#d65b6c" stroke-width="1.3" stroke-linecap="round"/>
<line x1="807.1" y1="286.7" x2="815.1" y2="286.9" stroke="#d65b6c" stroke-width="1.3" stroke-linecap="round"/>
<line x1="804.6" y1="299.7" x2="815.5" y2="301.1" stroke="#f08a96" stroke-width="2.4" stroke-linecap="round"/>
<text x="674.6" y="174.8" font-size="21" fill="#fff" text-anchor="middle" font-weight="normal" stroke="#fff" stroke-width="0.35">0</text>
<g transform="translate(583,208.6) rotate(-40)">
<text x="0.0" y="7.5" font-size="21" fill="#fff" text-anchor="middle" font-weight="normal" stroke="#fff" stroke-width="0.3">0</text>
</g>
<text x="556.0" y="311.4" font-size="22" fill="#fff" text-anchor="middle" font-weight="normal" stroke="#fff" stroke-width="0.35">1</text>
<text x="793.6" y="311.4" font-size="22" fill="#fff" text-anchor="middle" font-weight="normal" stroke="#fff" stroke-width="0.35">7</text>
<path d="M659.2 232.6 V288 H649.4 V243.1 L635.9 246 V239.6 L654.3 232.6 Z M672.9 232.6 H710.9 V237.5 L690.2 288 H679.9 L699.7 241.1 H672.9 Z" fill="#fff"/>
<path d="M670.3 318.8 V351.2 H664.5 V324.8 L656.6 326.3 V322.5 L667.1 318.8 Z M678.9 318.8 H700.7 V321.7 L688.3 351.2 H682.1 L694 323.7 H678.9 Z" fill="#fff"/>
<line x1="705.0" y1="274.0" x2="790.0" y2="187.0" stroke="#ff3b4b" stroke-width="14" stroke-linecap="round" filter="url(#glow)" opacity="0.55"/>
<circle cx="772" cy="203" r="16" fill="#ff4455" filter="url(#glow)" opacity="0.55"/>
<polygon points="687.3,298.8 740.3,243.3 770.7,210.0 801.9,175.2 801.3,174.6 767.4,206.8 735.0,238.2 681.2,292.8" fill="#f2323f" stroke="#f2323f" stroke-width="1.2" stroke-linejoin="round"/>
<line x1="694.7" y1="285.0" x2="764.4" y2="213.2" stroke="#ff5a64" stroke-width="1.4" stroke-linecap="round" opacity="0.6"/>
<polygon points="771.3,208.3 802.0,175.2 801.2,174.6 769.1,206.2" fill="#ffe9ea"/>
<g transform="translate(765.8,208.6) rotate(38)">
<text x="0.0" y="6.2" font-size="17" fill="none" text-anchor="middle" font-weight="normal" stroke="#ffeef0" stroke-width="1.1">0</text>
</g>
<text x="587.5" y="448.7" font-size="20.3" fill="#fff" text-anchor="start" font-weight="normal" textLength="174.0" lengthAdjust="spacingAndGlyphs" stroke="#fff" stroke-width="0.3">Bitcoin Dominance</text>
<line x1="478" x2="888.5" y1="472.5" y2="472.5" stroke="#323e5c" stroke-width="1"/>
<line x1="478" x2="888.5" y1="509.4" y2="509.4" stroke="#323e5c" stroke-width="1"/>
<line x1="478" x2="888.5" y1="547.1" y2="547.1" stroke="#323e5c" stroke-width="1"/>
<line x1="478" x2="888.5" y1="584.0" y2="584.0" stroke="#323e5c" stroke-width="1"/>
<line x1="478" x2="888.5" y1="620.9" y2="620.9" stroke="#323e5c" stroke-width="1"/>
<line x1="478" x2="888.5" y1="657.9" y2="657.9" stroke="#323e5c" stroke-width="1"/>
<path d="M478.0 689.0 C479.0 687.5 481.8 683.8 484.0 680.0 C486.2 676.2 488.8 671.3 491.5 666.0 C494.2 660.7 497.1 652.6 500.0 648.0 C502.9 643.4 505.7 639.5 508.7 638.2 C511.7 637.0 514.7 639.6 518.0 640.5 C521.3 641.4 524.7 643.8 528.4 643.5 C532.1 643.2 536.2 640.2 540.0 639.0 C543.8 637.8 546.8 635.8 551.0 636.1 C555.2 636.4 560.2 639.3 565.0 641.0 C569.8 642.7 576.0 646.1 579.7 646.4 C583.4 646.7 584.6 644.5 587.0 643.0 C589.4 641.5 591.5 639.8 594.0 637.3 C596.5 634.8 599.3 630.9 602.0 628.0 C604.7 625.1 607.1 622.5 610.4 619.7 C613.7 616.9 618.2 613.0 622.0 611.0 C625.8 609.0 629.5 607.1 633.0 607.4 C636.5 607.7 639.6 611.2 643.0 613.0 C646.4 614.8 650.3 618.5 653.5 618.0 C656.7 617.5 658.9 613.5 662.0 610.0 C665.1 606.5 669.0 601.2 672.0 597.2 C675.0 593.2 677.4 588.9 680.0 586.0 C682.6 583.1 684.8 579.7 687.5 580.0 C690.2 580.3 692.9 583.9 696.0 588.0 C699.1 592.1 703.3 600.0 706.0 604.5 C708.7 609.0 709.9 611.5 712.0 615.0 C714.1 618.5 716.4 623.1 718.5 625.5 C720.6 627.9 722.1 629.8 724.4 629.6 C726.6 629.4 729.2 627.8 732.0 624.5 C734.8 621.2 738.1 616.8 741.0 610.0 C743.9 603.2 746.7 595.8 749.5 584.0 C752.3 572.2 755.1 552.5 758.0 539.0 C760.9 525.5 764.2 511.2 767.0 503.0 C769.8 494.8 771.5 489.0 774.5 490.0 C777.5 491.0 781.7 501.6 784.9 509.0 C788.1 516.4 790.9 526.4 793.9 534.4 C796.9 542.4 800.0 551.3 802.9 556.9 C805.8 562.5 808.1 565.4 811.0 568.0 C813.9 570.6 817.1 573.1 820.3 572.8 C823.4 572.4 826.8 570.5 829.9 565.9 C833.0 561.2 836.4 553.4 838.9 544.9 C841.4 536.4 842.4 524.9 844.9 514.9 C847.4 504.9 851.4 492.5 853.9 485.0 C856.4 477.5 859.0 472.5 860.0 470.0 L888.5 468 L888.5 689.6 L478 689.6 Z" fill="url(#ra)"/>
<line x1="478" x2="888.5" y1="509.4" y2="509.4" stroke="#8f6a86" stroke-width="1" stroke-opacity="0.22"/>
<line x1="478" x2="888.5" y1="547.1" y2="547.1" stroke="#8f6a86" stroke-width="1" stroke-opacity="0.22"/>
<line x1="478" x2="888.5" y1="584.0" y2="584.0" stroke="#8f6a86" stroke-width="1" stroke-opacity="0.22"/>
<line x1="478" x2="888.5" y1="620.9" y2="620.9" stroke="#8f6a86" stroke-width="1" stroke-opacity="0.22"/>
<line x1="478" x2="888.5" y1="657.9" y2="657.9" stroke="#8f6a86" stroke-width="1" stroke-opacity="0.22"/>
<line x1="478" x2="888.5" y1="689.6" y2="689.6" stroke="#5a6788" stroke-width="1.2"/>
<line x1="478" x2="478" y1="466.3" y2="689.6" stroke="#5a6788" stroke-width="1.2"/>
<path d="M478.0 689.0 C479.0 687.5 481.8 683.8 484.0 680.0 C486.2 676.2 488.8 671.3 491.5 666.0 C494.2 660.7 497.1 652.6 500.0 648.0 C502.9 643.4 505.7 639.5 508.7 638.2 C511.7 637.0 514.7 639.6 518.0 640.5 C521.3 641.4 524.7 643.8 528.4 643.5 C532.1 643.2 536.2 640.2 540.0 639.0 C543.8 637.8 546.8 635.8 551.0 636.1 C555.2 636.4 560.2 639.3 565.0 641.0 C569.8 642.7 576.0 646.1 579.7 646.4 C583.4 646.7 584.6 644.5 587.0 643.0 C589.4 641.5 591.5 639.8 594.0 637.3 C596.5 634.8 599.3 630.9 602.0 628.0 C604.7 625.1 607.1 622.5 610.4 619.7 C613.7 616.9 618.2 613.0 622.0 611.0 C625.8 609.0 629.5 607.1 633.0 607.4 C636.5 607.7 639.6 611.2 643.0 613.0 C646.4 614.8 650.3 618.5 653.5 618.0 C656.7 617.5 658.9 613.5 662.0 610.0 C665.1 606.5 669.0 601.2 672.0 597.2 C675.0 593.2 677.4 588.9 680.0 586.0 C682.6 583.1 684.8 579.7 687.5 580.0 C690.2 580.3 692.9 583.9 696.0 588.0 C699.1 592.1 703.3 600.0 706.0 604.5 C708.7 609.0 709.9 611.5 712.0 615.0 C714.1 618.5 716.4 623.1 718.5 625.5 C720.6 627.9 722.1 629.8 724.4 629.6 C726.6 629.4 729.2 627.8 732.0 624.5 C734.8 621.2 738.1 616.8 741.0 610.0 C743.9 603.2 746.7 595.8 749.5 584.0 C752.3 572.2 755.1 552.5 758.0 539.0 C760.9 525.5 764.2 511.2 767.0 503.0 C769.8 494.8 771.5 489.0 774.5 490.0 C777.5 491.0 781.7 501.6 784.9 509.0 C788.1 516.4 790.9 526.4 793.9 534.4 C796.9 542.4 800.0 551.3 802.9 556.9 C805.8 562.5 808.1 565.4 811.0 568.0 C813.9 570.6 817.1 573.1 820.3 572.8 C823.4 572.4 826.8 570.5 829.9 565.9 C833.0 561.2 836.4 553.4 838.9 544.9 C841.4 536.4 842.4 524.9 844.9 514.9 C847.4 504.9 851.4 492.5 853.9 485.0 C856.4 477.5 859.0 472.5 860.0 470.0" fill="none" stroke="#ec4b5d" stroke-width="1.9"/>
<path d="M478.0 684.5 C479.0 681.8 481.8 673.5 484.0 668.0 C486.2 662.5 489.0 656.7 491.5 651.7 C494.0 646.7 496.5 641.3 499.0 638.0 C501.5 634.7 504.0 632.2 506.7 632.0 C509.4 631.8 512.1 635.3 515.0 637.0 C517.9 638.7 521.1 642.5 524.3 642.3 C527.5 642.1 530.9 637.6 534.0 636.0 C537.1 634.4 539.5 632.4 542.8 632.4 C546.1 632.4 549.9 634.8 553.8 636.1 C557.7 637.4 561.9 638.9 566.0 640.0 C570.1 641.1 575.3 643.2 578.5 642.7 C581.7 642.2 582.8 639.6 585.0 637.0 C587.2 634.4 589.7 630.1 592.0 627.1 C594.3 624.1 596.6 620.9 599.0 619.0 C601.4 617.1 603.0 617.3 606.3 615.6 C609.6 613.9 614.8 611.2 619.0 609.0 C623.2 606.8 627.8 603.0 631.8 602.5 C635.8 602.0 639.4 605.0 643.0 606.0 C646.6 607.0 650.3 609.1 653.5 608.6 C656.7 608.1 658.9 605.7 662.0 603.0 C665.1 600.3 669.0 595.5 672.0 592.2 C675.0 588.9 677.4 585.5 680.0 583.0 C682.6 580.5 684.8 577.0 687.5 577.5 C690.2 578.0 692.9 582.2 696.0 586.0 C699.1 589.8 703.4 596.3 706.0 600.4 C708.6 604.5 709.8 607.6 711.8 610.8 C713.8 614.0 715.8 617.5 717.8 619.7 C719.8 621.9 721.3 624.5 723.8 624.2 C726.3 624.0 729.7 621.9 732.7 618.2 C735.7 614.5 738.7 610.0 741.7 601.8 C744.7 593.6 747.7 580.8 750.7 568.8 C753.7 556.8 756.7 540.6 759.7 529.9 C762.7 519.2 765.4 510.1 768.5 504.5 C771.6 498.9 774.7 494.2 778.4 496.4 C782.1 498.6 786.8 510.6 790.9 517.9 C795.0 525.2 798.9 535.0 802.9 540.4 C806.9 545.8 810.9 548.9 814.9 550.3 C818.9 551.6 823.1 549.0 826.9 548.5 C830.6 548.0 833.9 547.3 837.4 547.3 C840.9 547.3 846.1 548.3 847.9 548.5" fill="none" stroke="#41d2ba" stroke-width="1.9"/>
<circle cx="524.3" cy="642.3" r="3.0" fill="#4ad6c0"/>
<circle cx="553.8" cy="636.1" r="2.6" fill="#4ad6c0"/>
<circle cx="578.5" cy="642.7" r="3.0" fill="#4ad6c0"/>
<circle cx="606.3" cy="615.6" r="2.6" fill="#4ad6c0"/>
<circle cx="631.8" cy="602.5" r="3.1" fill="#4ad6c0"/>
<circle cx="687.5" cy="577.5" r="3.2" fill="#4ad6c0"/>
<circle cx="723.2" cy="623.8" r="2.8" fill="#4ad6c0"/>
<circle cx="778.4" cy="496.4" r="2.8" fill="#4ad6c0"/>
<circle cx="837.4" cy="547.3" r="2.0" fill="#4ad6c0"/>
<text x="470.5" y="477.4" font-size="13.8" fill="#e2e6ee" text-anchor="end" font-weight="normal" >20</text>
<text x="470.5" y="514.3" font-size="13.8" fill="#e2e6ee" text-anchor="end" font-weight="normal" >60</text>
<text x="470.5" y="552.0" font-size="13.8" fill="#e2e6ee" text-anchor="end" font-weight="normal" >40</text>
<text x="470.5" y="588.9" font-size="13.8" fill="#e2e6ee" text-anchor="end" font-weight="normal" >60</text>
<text x="470.5" y="625.8" font-size="13.8" fill="#e2e6ee" text-anchor="end" font-weight="normal" >20</text>
<text x="470.5" y="662.8" font-size="13.8" fill="#e2e6ee" text-anchor="end" font-weight="normal" >10</text>
<text x="470.5" y="700.5" font-size="13.8" fill="#e2e6ee" text-anchor="end" font-weight="normal" >0</text>
<line x1="526.0" x2="526.0" y1="690" y2="694" stroke="#5a6788" stroke-width="1"/>
<text x="526.0" y="708.8" font-size="13.8" fill="#e2e6ee" text-anchor="middle" font-weight="normal" >100</text>
<line x1="579.3" x2="579.3" y1="690" y2="694" stroke="#5a6788" stroke-width="1"/>
<text x="579.3" y="708.8" font-size="13.8" fill="#e2e6ee" text-anchor="middle" font-weight="normal" >100</text>
<line x1="632.6" x2="632.6" y1="690" y2="694" stroke="#5a6788" stroke-width="1"/>
<text x="632.6" y="708.8" font-size="13.8" fill="#e2e6ee" text-anchor="middle" font-weight="normal" >100</text>
<line x1="685.7" x2="685.7" y1="690" y2="694" stroke="#5a6788" stroke-width="1"/>
<text x="685.7" y="708.8" font-size="13.8" fill="#e2e6ee" text-anchor="middle" font-weight="normal" >100</text>
<line x1="738.8" x2="738.8" y1="690" y2="694" stroke="#5a6788" stroke-width="1"/>
<text x="738.8" y="708.8" font-size="13.8" fill="#e2e6ee" text-anchor="middle" font-weight="normal" >160</text>
<line x1="793.0" x2="793.0" y1="690" y2="694" stroke="#5a6788" stroke-width="1"/>
<text x="793.0" y="708.8" font-size="13.8" fill="#e2e6ee" text-anchor="middle" font-weight="normal" >180</text>
<line x1="846.3" x2="846.3" y1="690" y2="694" stroke="#5a6788" stroke-width="1"/>
<text x="846.3" y="708.8" font-size="13.8" fill="#e2e6ee" text-anchor="middle" font-weight="normal" >160</text>
<rect x="846.7" y="464.3" width="45" height="17.2" rx="5" fill="#2fd0b0" filter="url(#glow2)" opacity="0.5"/>
<rect x="847.5" y="541" width="44.3" height="17.2" rx="5" fill="#f0a52e" filter="url(#glow2)" opacity="0.45"/>
<rect x="847.5" y="650.5" width="44.3" height="17.6" rx="5" fill="#f0a52e" filter="url(#glow2)" opacity="0.45"/>
<rect x="846.7" y="464.3" width="45.1" height="17.2" rx="4.5" fill="#2fd0b0"/>
<text x="869.2" y="477.6" font-size="13" fill="#fff" text-anchor="middle" font-weight="normal" textLength="33.0" lengthAdjust="spacingAndGlyphs" >190%</text>
<rect x="847.5" y="541.0" width="44.3" height="17.2" rx="4.5" fill="#f0a52e"/>
<text x="869.6" y="554.3" font-size="13" fill="#fff" text-anchor="middle" font-weight="normal" textLength="32.0" lengthAdjust="spacingAndGlyphs" >801%</text>
<rect x="847.5" y="650.5" width="44.3" height="17.6" rx="4.5" fill="#f0a52e"/>
<text x="869.6" y="664.0" font-size="13" fill="#fff" text-anchor="middle" font-weight="normal" textLength="32.0" lengthAdjust="spacingAndGlyphs" >180%</text>
<text x="981.7" y="76.0" font-size="19.3" fill="#fff" text-anchor="start" font-weight="normal" textLength="136.5" lengthAdjust="spacingAndGlyphs" stroke="#fff" stroke-width="0.3">Risk Assessment</text>
<path d="M989.9 121.1 H1071.2 L1084.9 133.3 M1009.7 121.1 V129.7 M1044.4 121.1 V129.7" fill="none" stroke="#46536f" stroke-width="1.1"/>
<path d="M1001.1 208 H1072.7 M1045.3 208 V220.2" fill="none" stroke="#46536f" stroke-width="1.1"/>
<path d="M1212.9 134.8 L1226.6 122.7 H1303.7 M1276.9 122.7 V134.8" fill="none" stroke="#46536f" stroke-width="1.1"/>
<path d="M1212.9 183.6 L1222.1 192.7 H1310.4 M1293.1 192.7 V204.9" fill="none" stroke="#46536f" stroke-width="1.1"/>
<path d="M1161.63 255.55 A75.40 75.40 0 0 1 1115.84 113.34 L1119.91 122.48 A65.40 65.40 0 0 0 1159.60 245.75 Z" fill="#28cfae" stroke="#28cfae" stroke-width="4.4" stroke-linejoin="round"/>
<path d="M1150.70 105.93 A75.40 75.40 0 0 1 1223.72 176.08 L1213.72 176.48 A65.40 65.40 0 0 0 1150.70 115.94 Z" fill="#ea3f4c" stroke="#ea3f4c" stroke-width="4.4" stroke-linejoin="round"/>
<path d="M1108.12 123.63 A70.40 70.40 0 0 1 1119.31 117.24" fill="none" stroke="#28cfae" stroke-width="14.4"/>
<path d="M1119.08 117.34 A70.40 70.40 0 0 1 1148.50 110.90" fill="none" stroke="#4a6596" stroke-width="14.4"/>
<path d="M1148.13 110.90 A70.40 70.40 0 0 1 1160.72 111.97" fill="none" stroke="#ea3f4c" stroke-width="14.4"/>
<text x="1146.2" y="166.2" font-size="23.3" fill="#fff" text-anchor="middle" font-weight="normal" textLength="59.6" lengthAdjust="spacingAndGlyphs" stroke="#fff" stroke-width="0.85">250%</text>
<rect x="998.1" y="134.8" width="23.8" height="11.6" rx="5.8" fill="#e53e4e"/>
<text x="1010.0" y="142.9" font-size="6.5" fill="#fff" text-anchor="middle" font-weight="bold" >f0</text>
<rect x="1033.1" y="134.8" width="23.5" height="11.6" rx="5.8" fill="#e53e4e"/>
<text x="1044.8" y="142.9" font-size="6.5" fill="#fff" text-anchor="middle" font-weight="bold" >0</text>
<rect x="1264.7" y="139.4" width="23.8" height="11.6" rx="5.8" fill="#e53e4e"/>
<text x="1276.6" y="147.5" font-size="6.5" fill="#fff" text-anchor="middle" font-weight="bold" >f0</text>
<rect x="1032.2" y="225.7" width="27.4" height="11.2" rx="5.6" fill="#f5c73a" stroke="#4d411f" stroke-width="0.9"/>
<text x="1045.9" y="233.7" font-size="6.8" fill="#5a4516" text-anchor="middle" font-weight="bold" >383</text>
<rect x="1280.0" y="210.4" width="26.8" height="11.3" rx="5.6" fill="#f5c73a" stroke="#4d411f" stroke-width="0.9"/>
<text x="1293.4" y="218.5" font-size="6.8" fill="#5a4516" text-anchor="middle" font-weight="bold" >S89</text>
<text x="995.0" y="181.8" font-size="12.6" fill="#bcc4d3" text-anchor="start" font-weight="normal" textLength="41.2" lengthAdjust="spacingAndGlyphs" >49.70%</text>
<text x="1240.3" y="174.3" font-size="12.8" fill="#86d3c0" text-anchor="start" font-weight="normal" textLength="42.7" lengthAdjust="spacingAndGlyphs" stroke="#86d3c0" stroke-width="0.3">23,60%</text>
<text x="984.8" y="345.9" font-size="27" fill="#fff" text-anchor="start" font-weight="normal" textLength="280.0" lengthAdjust="spacingAndGlyphs" stroke="#fff" stroke-width="0.6">Understanding the Shift:</text>
<text x="984.3" y="381.0" font-size="27" fill="#fff" text-anchor="start" font-weight="normal" textLength="339.8" lengthAdjust="spacingAndGlyphs" stroke="#fff" stroke-width="0.6">Adapting Your Crypto Strategy</text>
<text x="984.0" y="460.7" font-size="19.5" fill="#fff" text-anchor="start" font-weight="normal" textLength="121.3" lengthAdjust="spacingAndGlyphs" stroke="#fff" stroke-width="0.3">Market Trends</text>
<circle cx="999.0" cy="493.2" r="18.8" fill="#222c46" stroke="#283351" stroke-width="1"/>
<circle cx="1038.8" cy="493.2" r="18.8" fill="#222c46" stroke="#283351" stroke-width="1"/>
<circle cx="1078.3" cy="493.2" r="18.8" fill="#222c46" stroke="#283351" stroke-width="1"/>
<circle cx="1115.9" cy="493.2" r="18.8" fill="#222c46" stroke="#283351" stroke-width="1"/>
<circle cx="1158.2" cy="493.2" r="18.8" fill="#222c46" stroke="#283351" stroke-width="1"/>
<circle cx="1203.6" cy="493.2" r="18.8" fill="#222c46" stroke="#283351" stroke-width="1"/>
<circle cx="1246.2" cy="493.2" r="18.8" fill="#222c46" stroke="#283351" stroke-width="1"/>
<circle cx="1291.3" cy="493.2" r="18.8" fill="#222c46" stroke="#283351" stroke-width="1"/>
<path d="M998.5 488.2 a3 3.2 0 0 1 3 3.2 c0 2 -1.6 3.2 -2.2 4 l-0.8 4.2 l-0.8 -4.2 c-0.6 -0.8 -2.2 -2 -2.2 -4 a3 3.2 0 0 1 3 -3.2 z" fill="#8c96ae"/><path d="M999.6 490.2 a1.6 1.6 0 1 0 0 2.6" fill="none" stroke="#232d47" stroke-width="0.8"/>
<path d="M1038.4 486.2 L1044.8 493.5 L1038.4 500.8 L1032 493.5 Z" fill="#84c8c5"/><circle cx="1038.4" cy="493.6" r="1.9" fill="#1f6f6c"/>
<g fill="none" stroke="#8c96ae" stroke-linecap="round"><path d="M1077.6 488.8 V499" stroke-width="1.9"/><path d="M1073.2 490.6 q0.4 3.4 4.4 3.2 q4 0.2 4.4 -3.2" stroke-width="1.5"/><path d="M1072.8 489.8 l1.2 2.4 M1082.4 489.8 l-1.2 2.4" stroke-width="2.2"/></g>
<path d="M1111.8 495 h5.6 l-2.8 4.8 z" fill="#737d95"/>
<rect x="1098.3" y="482.7" width="24.9" height="12.1" rx="6.1" fill="#e53e4e"/>
<text x="1110.8" y="491.4" font-size="7.4" fill="#fff" text-anchor="middle" font-weight="bold" >fP8</text>
<path d="M1153.3 487.6 L1163.5 493.6 L1153.3 499.6 Z" fill="#8590a8"/>
<g fill="none" stroke="#8c96ae" stroke-width="1.7" stroke-linecap="round"><path d="M1198.6 490.4 L1208.6 497.6 M1208.6 490.4 L1198.6 497.6"/></g><path d="M1197.6 499.4 L1200.6 496.4 H1206.8 L1210 499.4 Z" fill="#8c96ae"/><circle cx="1203.6" cy="489" r="1.9" fill="#8c96ae"/>
<circle cx="1246.1" cy="493.5" r="6.2" fill="#8c96ae"/><path d="M1246.1 493.8 L1249.6 489.6" stroke="#232d47" stroke-width="1.1" fill="none"/><circle cx="1244.2" cy="494.4" r="0.9" fill="#232d47"/>
<text x="1290.6" y="498.0" font-size="12.6" fill="#9aa4ba" text-anchor="middle" font-weight="bold" textLength="13.6" lengthAdjust="spacingAndGlyphs" >DX</text>
<line x1="981.7" x2="1284.6" y1="531.6" y2="531.6" stroke="#38435d" stroke-width="1.2"/>
<line x1="981.7" x2="1182.3" y1="531.6" y2="531.6" stroke="#2fb9a4" stroke-width="1.9"/>
<rect x="1288.8" y="525.8" width="28.5" height="12.1" rx="6.1" fill="#34415f"/>
<text x="1303.0" y="534.9" font-size="8.6" fill="#dde3ee" text-anchor="middle" font-weight="bold" textLength="15.5" lengthAdjust="spacingAndGlyphs" >10.7</text>
<line x1="1001.8" x2="1286.6" y1="589.0" y2="589.0" stroke="#2e3850" stroke-width="1"/>
<line x1="1001.8" x2="1286.6" y1="621.0" y2="621.0" stroke="#2e3850" stroke-width="1"/>
<line x1="1001.8" x2="1286.6" y1="653.0" y2="653.0" stroke="#2e3850" stroke-width="1"/>
<line x1="1050.5" x2="1050.5" y1="567.5" y2="685.8" stroke="#2e3850" stroke-width="1"/>
<line x1="1096.4" x2="1096.4" y1="567.5" y2="685.8" stroke="#2e3850" stroke-width="1"/>
<line x1="1191.1" x2="1191.1" y1="567.5" y2="685.8" stroke="#2e3850" stroke-width="1"/>
<line x1="1238.4" x2="1238.4" y1="567.5" y2="685.8" stroke="#2e3850" stroke-width="1"/>
<line x1="1286.6" x2="1286.6" y1="567.5" y2="685.8" stroke="#2e3850" stroke-width="1"/>
<path d="M1001.8 676.7 C1002.8 676.2 1005.7 675.2 1008.0 673.5 C1010.3 671.8 1013.5 669.3 1015.7 666.4 C1017.9 663.5 1019.1 659.7 1021.0 656.0 C1022.9 652.3 1024.8 647.6 1026.8 644.1 C1028.8 640.6 1030.9 637.0 1033.0 635.0 C1035.1 633.0 1037.0 632.3 1039.3 632.1 C1041.6 631.9 1044.4 632.9 1047.0 634.0 C1049.6 635.1 1052.0 636.8 1054.7 638.5 C1057.4 640.2 1060.2 642.4 1063.0 644.0 C1065.8 645.6 1068.6 647.0 1071.4 648.3 C1074.2 649.5 1077.2 650.7 1080.0 651.5 C1082.8 652.3 1085.1 652.8 1088.1 653.0 C1091.1 653.2 1094.8 653.0 1098.0 653.0 C1101.2 653.0 1104.8 653.0 1107.6 653.3 C1110.4 653.6 1112.7 654.0 1115.0 655.0 C1117.3 656.0 1119.3 657.6 1121.5 659.4 C1123.7 661.2 1125.7 663.9 1128.0 666.0 C1130.3 668.1 1133.1 670.5 1135.4 671.9 C1137.7 673.3 1139.7 673.9 1142.0 674.5 C1144.3 675.1 1147.0 675.6 1149.3 675.3 C1151.6 675.0 1153.7 673.4 1156.0 672.5 C1158.3 671.6 1160.4 670.2 1163.2 669.7 C1166.0 669.2 1169.8 669.4 1173.0 669.3 C1176.2 669.2 1179.9 669.8 1182.7 669.1 C1185.5 668.4 1187.7 666.6 1190.0 665.0 C1192.3 663.4 1194.1 661.4 1196.6 659.4 C1199.1 657.4 1202.2 654.9 1205.0 653.0 C1207.8 651.1 1210.8 649.8 1213.3 648.3 C1215.8 646.8 1217.7 645.6 1220.0 644.0 C1222.3 642.4 1225.0 640.5 1227.3 638.5 C1229.6 636.5 1231.7 633.8 1234.0 632.0 C1236.3 630.2 1238.2 629.0 1241.2 627.9 C1244.2 626.8 1248.3 625.9 1252.0 625.2 C1255.7 624.5 1259.7 624.2 1263.5 623.8 C1267.3 623.4 1271.2 623.1 1275.0 622.8 C1278.8 622.5 1284.7 622.0 1286.6 621.8 L1286.6 685.8 L1001.8 685.8 Z" fill="url(#ra2)"/>
<rect x="1058.0" y="592.6" width="16.7" height="93.2" fill="url(#rb)"/>
<rect x="1078.9" y="655.8" width="16.7" height="30.0" fill="url(#rb)"/>
<rect x="1106.7" y="646.0" width="17.0" height="39.8" fill="url(#rb)"/>
<rect x="1136.2" y="671.9" width="16.7" height="13.9" fill="url(#rb)"/>
<rect x="1157.7" y="674.7" width="17.2" height="11.1" fill="url(#rb)"/>
<rect x="1190.2" y="666.4" width="17.3" height="19.4" fill="url(#rb)"/>
<rect x="1212.5" y="643.3" width="17.3" height="42.5" fill="url(#rb)"/>
<rect x="1246.7" y="602.9" width="17.3" height="82.9" fill="url(#rb)"/>
<path d="M1001.8 676.7 C1002.8 676.2 1005.7 675.2 1008.0 673.5 C1010.3 671.8 1013.5 669.3 1015.7 666.4 C1017.9 663.5 1019.1 659.7 1021.0 656.0 C1022.9 652.3 1024.8 647.6 1026.8 644.1 C1028.8 640.6 1030.9 637.0 1033.0 635.0 C1035.1 633.0 1037.0 632.3 1039.3 632.1 C1041.6 631.9 1044.4 632.9 1047.0 634.0 C1049.6 635.1 1052.0 636.8 1054.7 638.5 C1057.4 640.2 1060.2 642.4 1063.0 644.0 C1065.8 645.6 1068.6 647.0 1071.4 648.3 C1074.2 649.5 1077.2 650.7 1080.0 651.5 C1082.8 652.3 1085.1 652.8 1088.1 653.0 C1091.1 653.2 1094.8 653.0 1098.0 653.0 C1101.2 653.0 1104.8 653.0 1107.6 653.3 C1110.4 653.6 1112.7 654.0 1115.0 655.0 C1117.3 656.0 1119.3 657.6 1121.5 659.4 C1123.7 661.2 1125.7 663.9 1128.0 666.0 C1130.3 668.1 1133.1 670.5 1135.4 671.9 C1137.7 673.3 1139.7 673.9 1142.0 674.5 C1144.3 675.1 1147.0 675.6 1149.3 675.3 C1151.6 675.0 1153.7 673.4 1156.0 672.5 C1158.3 671.6 1160.4 670.2 1163.2 669.7 C1166.0 669.2 1169.8 669.4 1173.0 669.3 C1176.2 669.2 1179.9 669.8 1182.7 669.1 C1185.5 668.4 1187.7 666.6 1190.0 665.0 C1192.3 663.4 1194.1 661.4 1196.6 659.4 C1199.1 657.4 1202.2 654.9 1205.0 653.0 C1207.8 651.1 1210.8 649.8 1213.3 648.3 C1215.8 646.8 1217.7 645.6 1220.0 644.0 C1222.3 642.4 1225.0 640.5 1227.3 638.5 C1229.6 636.5 1231.7 633.8 1234.0 632.0 C1236.3 630.2 1238.2 629.0 1241.2 627.9 C1244.2 626.8 1248.3 625.9 1252.0 625.2 C1255.7 624.5 1259.7 624.2 1263.5 623.8 C1267.3 623.4 1271.2 623.1 1275.0 622.8 C1278.8 622.5 1284.7 622.0 1286.6 621.8" fill="none" stroke="#e04a5a" stroke-width="1.6"/>
<rect x="1058.0" y="592.6" width="16.7" height="93.2" fill="url(#rb)" opacity="0.8"/>
<rect x="1246.7" y="602.9" width="17.3" height="82.9" fill="url(#rb)" opacity="0.8"/>
<line x1="1001.8" x2="1286.6" y1="685.8" y2="685.8" stroke="#56627e" stroke-width="1.2"/>
<line x1="1001.8" x2="1001.8" y1="567.5" y2="685.8" stroke="#56627e" stroke-width="1.2"/>
<text x="987.8" y="591.9" font-size="11.3" fill="#dfe4ed" text-anchor="middle" font-weight="normal" >80</text>
<text x="987.8" y="625.0" font-size="11.3" fill="#dfe4ed" text-anchor="middle" font-weight="normal" >30</text>
<text x="987.8" y="657.0" font-size="11.3" fill="#dfe4ed" text-anchor="middle" font-weight="normal" >10</text>
<text x="990.6" y="689.4" font-size="11.3" fill="#dfe4ed" text-anchor="middle" font-weight="normal" >0</text>
<text x="1050.5" y="705.4" font-size="11.7" fill="#dfe4ed" text-anchor="middle" font-weight="normal" >20</text>
<text x="1096.4" y="705.4" font-size="11.7" fill="#dfe4ed" text-anchor="middle" font-weight="normal" >30</text>
<text x="1143.7" y="705.4" font-size="11.7" fill="#dfe4ed" text-anchor="middle" font-weight="normal" >180</text>
<text x="1191.1" y="705.4" font-size="11.7" fill="#dfe4ed" text-anchor="middle" font-weight="normal" >180</text>
<text x="1238.4" y="705.4" font-size="11.7" fill="#dfe4ed" text-anchor="middle" font-weight="normal" >180</text>
<text x="1287.1" y="705.4" font-size="11.7" fill="#dfe4ed" text-anchor="middle" font-weight="normal" >100</text>
<line x1="1050.5" x2="1050.5" y1="686" y2="689.5" stroke="#56627e" stroke-width="1"/>
<line x1="1096.4" x2="1096.4" y1="686" y2="689.5" stroke="#56627e" stroke-width="1"/>
<line x1="1238.4" x2="1238.4" y1="686" y2="689.5" stroke="#56627e" stroke-width="1"/>
<rect x="1052.7" y="582.0" width="24.8" height="10.6" rx="5.3" fill="#e53e4e"/>
<text x="1065.1" y="589.9" font-size="7.2" fill="#fff" text-anchor="middle" font-weight="bold" >5£8</text>
<rect x="1179.9" y="586.2" width="26.5" height="11.1" rx="5.5" fill="#e53e4e"/>
<text x="1193.2" y="594.3" font-size="7.2" fill="#fff" text-anchor="middle" font-weight="bold" >5£8</text>
<rect x="1287.1" y="616.8" width="34.8" height="12.8" rx="5.5" fill="#394766"/>
<text x="1304.5" y="626.9" font-size="10.2" fill="#e3e8f1" text-anchor="middle" font-weight="normal" >90%</text>
<text x="1115.1" y="641.2" font-size="7.6" fill="#8fbfb9" text-anchor="middle" font-weight="normal" >30%</text>
<text x="1144.6" y="668.2" font-size="7.6" fill="#8fbfb9" text-anchor="middle" font-weight="normal" >30%</text>
<text x="1220.9" y="637.0" font-size="7.6" fill="#8fbfb9" text-anchor="middle" font-weight="normal" >30%</text>
<text x="1255.7" y="599.0" font-size="7.6" fill="#8fbfb9" text-anchor="middle" font-weight="normal" >30%</text>
</svg></body></html>
